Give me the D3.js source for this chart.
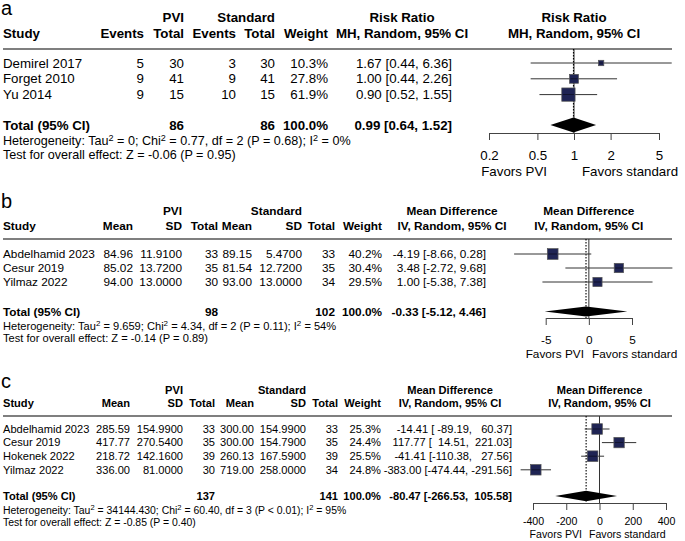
<!DOCTYPE html>
<html>
<head>
<meta charset="utf-8">
<script src="https://cdn.jsdelivr.net/npm/d3@7"></script>
<style>
  body { margin: 0; background: #fff; }
  text { font-family: "Liberation Sans", Arial, sans-serif; white-space: pre; fill: #000; }
</style>
</head>
<body>
<script>
// ---------- panel a : risk ratio ----------
const aStudies   = ["Demirel 2017", "Forget 2010", "Yu 2014"];
const aEventsPVI = [5, 9, 9];
const aTotalPVI  = [30, 41, 15];
const aEventsStd = [3, 9, 10];
const aTotalStd  = [30, 41, 15];
const aWeight    = [10.3, 27.8, 61.9];
const aEst       = [1.67, 1.00, 0.90];
const aLower     = [0.44, 0.44, 0.52];
const aUpper     = [6.36, 2.26, 1.55];
const aPooled    = [0.99, 0.64, 1.52];   // est, lower, upper
const aTicks     = [0.2, 0.5, 1, 2, 5];
const aHet       = ["0", "0.77", "2", "P = 0.68", "0%"];
const aTest      = "Z = -0.06 (P = 0.95)";

// ---------- panel b : mean difference ----------
const bStudies = ["Abdelhamid 2023", "Cesur 2019", "Yilmaz 2022"];
const bMeanPVI = [84.96, 85.02, 94.00];
const bSdPVI   = [11.91, 13.72, 13.00];
const bTotalPVI = [33, 35, 30];
const bMeanStd = [89.15, 81.54, 93.00];
const bSdStd   = [5.47, 12.72, 13.00];
const bTotalStd = [33, 35, 34];
const bWeight  = [40.2, 30.4, 29.5];
const bEst     = [-4.19, 3.48, 1.00];
const bLower   = [-8.66, -2.72, -5.38];
const bUpper   = [0.28, 9.68, 7.38];
const bPooled  = [-0.33, -5.12, 4.46];
const bTicks   = [-5, 0, 5];
const bHet     = ["9.659", "4.34", "2", "P = 0.11", "54%"];
const bTest    = "Z = -0.14 (P = 0.89)";

// ---------- panel c : mean difference ----------
const cStudies = ["Abdelhamid 2023", "Cesur 2019", "Hokenek 2022", "Yilmaz 2022"];
const cMeanPVI = [285.59, 417.77, 218.72, 336.00];
const cSdPVI   = [154.99, 270.54, 142.16, 81.00];
const cTotalPVI = [33, 35, 39, 30];
const cMeanStd = [300.00, 300.00, 260.13, 719.00];
const cSdStd   = [154.99, 154.79, 167.59, 258.00];
const cTotalStd = [33, 35, 39, 34];
const cWeight  = [25.3, 24.4, 25.5, 24.8];
const cEst     = [-14.41, 117.77, -41.41, -383.00];
const cLower   = [-89.19, 14.51, -110.38, -474.44];
const cUpper   = [60.37, 221.03, 27.56, -291.56];
const cPooled  = [-80.47, -266.53, 105.58];
const cTicks   = [-400, -200, 0, 200, 400];
const cHet     = ["34144.430", "60.40", "3", "P < 0.01", "95%"];
const cTest    = "Z = -0.85 (P = 0.40)";

const svg = d3.select("body").append("svg").attr("width", 685).attr("height", 541);

// plain hyphen instead of unicode minus
const loc = d3.formatLocale({decimal: ".", thousands: ",", grouping: [3], currency: ["", ""], minus: "-"});
const f2 = loc.format(".2f"), f4 = loc.format(".4f"), fInt = loc.format("d");
const fPct = v => loc.format(".1f")(v) + "%";
const navy = "#1f2454";

function forest(p) {
    const g = svg.append("g");
    const fs = p.fs;
    const x = p.x;

    const txt = (tx, ty, s, anchor, bold, size) => g.append("text")
        .attr("x", tx).attr("y", ty).attr("dy", ".35em")
        .attr("text-anchor", anchor || "start")
        .attr("font-weight", bold ? "bold" : null)
        .style("font-size", (size || fs) + "px")
        .text(s);

    const ciStr = (e, l, u) => {
        const pad = s => s.padStart(p.pad);
        return f2(e) + " [" + pad(f2(l)) + ", " + pad(f2(u)) + "]";
    };

    // panel letter
    g.append("text").attr("x", 1).attr("y", p.letterY).style("font-size", "20px").text(p.letter);

    // header row 1
    p.groups.forEach(d => txt(d[1], p.h1, d[0], "end", true));
    txt(p.ciHeadX, p.h1, p.ciHead[0], "middle", true);
    txt(x(p.nullVal), p.h1, p.ciHead[0], "middle", true);

    // header row 2
    txt(3, p.h2, "Study", "start", true);
    p.cols.forEach(c => txt(c.x, p.h2, c.label, "end", true));
    txt(p.ciHeadX, p.h2, p.ciHead[1], "middle", true);
    txt(x(p.nullVal), p.h2, p.ciHead[1], "middle", true);

    g.append("line")
        .attr("x1", 3).attr("x2", 672).attr("y1", p.rule).attr("y2", p.rule)
        .attr("stroke", "#555").attr("stroke-width", 1.6);

    // null line (solid) and pooled estimate (dotted)
    g.append("line")
        .attr("x1", x(p.nullVal)).attr("x2", x(p.nullVal))
        .attr("y1", p.rule).attr("y2", p.axisY)
        .attr("stroke", "#333").attr("stroke-width", 1);
    g.append("line")
        .attr("x1", x(p.pooled[0])).attr("x2", x(p.pooled[0]))
        .attr("y1", p.rule).attr("y2", p.axisY)
        .attr("stroke", "#000").attr("stroke-width", 1.1)
        .attr("stroke-dasharray", "1.5,1.5");

    // study rows
    p.studies.forEach((s, i) => {
        const y = p.row0 + i * p.step;
        txt(3, y, s);
        p.cols.forEach(c => txt(c.x, y, c.fmt(c.vals[i]), "end"));
        txt(p.ciX, y, ciStr(p.est[i], p.lower[i], p.upper[i]), "end");

        g.append("line")
            .attr("x1", x(p.lower[i])).attr("x2", x(p.upper[i]))
            .attr("y1", y).attr("y2", y)
            .attr("stroke", "#333").attr("stroke-width", 1);
        const sz = p.k * Math.sqrt(p.weight[i]);
        g.append("rect")
            .attr("x", x(p.est[i]) - sz / 2).attr("y", y - sz / 2)
            .attr("width", sz).attr("height", sz)
            .attr("fill", navy).attr("stroke", "#555").attr("stroke-width", 0.7);
        g.append("line")
            .attr("x1", x(p.est[i]) - sz / 2 + 1).attr("x2", x(p.est[i]) + sz / 2 - 1)
            .attr("y1", y).attr("y2", y)
            .attr("stroke", "#000").attr("stroke-width", 0.8).attr("opacity", 0.6);
    });

    // total row
    txt(3, p.totY, "Total (95% CI)", "start", true);
    p.cols.forEach(c => {
        if (c.sum) txt(c.x, p.totY, fInt(d3.sum(c.vals)), "end", true);
        if (c.total) txt(c.x, p.totY, c.total, "end", true);
    });
    txt(p.ciX, p.totY, ciStr(p.pooled[0], p.pooled[1], p.pooled[2]), "end", true);

    const cx = x(p.pooled[0]);
    g.append("path")
        .attr("d", `M${x(p.pooled[1])},${p.totY}L${cx},${p.totY - p.dh}L${x(p.pooled[2])},${p.totY}L${cx},${p.totY + p.dh}Z`)
        .attr("fill", "#000");

    // heterogeneity line with superscripts
    const het = g.append("text").attr("x", 3).attr("y", p.hetY).attr("dy", ".35em")
        .style("font-size", p.hfs + "px");
    const up = 0.35 * p.hfs;
    const parts = [
        ["Heterogeneity: Tau", 0], ["2", 1], [" = " + p.het[0] + "; Chi", 0], ["2", 1],
        [" = " + p.het[1] + ", df = " + p.het[2] + " (" + p.het[3] + "); I", 0], ["2", 1],
        [" = " + p.het[4], 0]
    ];
    parts.forEach((d, j) => {
        const t = het.append("tspan").text(d[0]);
        if (d[1]) t.attr("dy", -up).style("font-size", (p.hfs * 0.72) + "px");
        else if (j > 0) t.attr("dy", up);
    });
    txt(3, p.testY, "Test for overall effect: " + p.test, "start", false, p.hfs);

    // axis
    const ax = g.append("g")
        .attr("transform", `translate(0,${p.axisY})`)
        .call(d3.axisBottom(x).tickValues(p.ticks).tickFormat(loc.format("~g"))
            .tickSize(p.tickLen).tickSizeOuter(0));
    ax.select(".domain").attr("stroke", "#444");
    ax.selectAll(".tick line").attr("stroke", "#444");
    ax.selectAll(".tick text")
        .attr("y", p.tickLabY - p.axisY).attr("dy", ".35em")
        .style("font-size", (p.afs || fs) + "px");

    txt(p.favL, p.favY, "Favors PVI", "end", false, p.afs || fs);
    txt(p.favR, p.favY, "Favors standard", "start", false, p.afs || fs);
}

forest({
    letter: "a", letterY: 15, fs: 13.3, hfs: 12.6,
    h1: 17, h2: 33, rule: 49, row0: 63, step: 15.8, totY: 125, hetY: 141, testY: 155,
    studies: aStudies, weight: aWeight, est: aEst, lower: aLower, upper: aUpper,
    pooled: aPooled, het: aHet, test: aTest, pad: 0,
    groups: [["PVI", 184], ["Standard", 275]],
    cols: [
        {label: "Events", x: 144, vals: aEventsPVI, fmt: fInt},
        {label: "Total", x: 184, vals: aTotalPVI, fmt: fInt, sum: true},
        {label: "Events", x: 236, vals: aEventsStd, fmt: fInt},
        {label: "Total", x: 275, vals: aTotalStd, fmt: fInt, sum: true},
        {label: "Weight", x: 328, vals: aWeight, fmt: fPct, total: "100.0%"}
    ],
    ciHead: ["Risk Ratio", "MH, Random, 95% CI"], ciHeadX: 402, ciX: 452,
    x: d3.scaleLog().domain([0.2, 5]).range([489, 659]), nullVal: 1, ticks: aTicks,
    axisY: 133, tickLen: 7, tickLabY: 155, favY: 171, favL: 547, favR: 582,
    k: 1.69, dh: 7.5
});

forest({
    letter: "b", letterY: 208, fs: 11.8, hfs: 11.1,
    h1: 211, h2: 226, rule: 239, row0: 254, step: 14, totY: 311.5, hetY: 326, testY: 338,
    studies: bStudies, weight: bWeight, est: bEst, lower: bLower, upper: bUpper,
    pooled: bPooled, het: bHet, test: bTest, pad: 0,
    groups: [["PVI", 182], ["Standard", 302]],
    cols: [
        {label: "Mean", x: 133, vals: bMeanPVI, fmt: f2},
        {label: "SD", x: 182, vals: bSdPVI, fmt: f4},
        {label: "Total", x: 218, vals: bTotalPVI, fmt: fInt, sum: true},
        {label: "Mean", x: 252, vals: bMeanStd, fmt: f2},
        {label: "SD", x: 302, vals: bSdStd, fmt: f4},
        {label: "Total", x: 335, vals: bTotalStd, fmt: fInt, sum: true},
        {label: "Weight", x: 382, vals: bWeight, fmt: fPct, total: "100.0%"}
    ],
    ciHead: ["Mean Difference", "IV, Random, 95% CI"], ciHeadX: 452, ciX: 486,
    x: d3.scaleLinear().domain([-5, 5]).range([545.7, 632]), nullVal: 0, ticks: bTicks,
    axisY: 318, tickLen: 7, tickLabY: 340, favY: 354, favL: 584, favR: 592,
    k: 1.69, dh: 5
});

forest({
    letter: "c", letterY: 388, fs: 11.1, hfs: 10.45, afs: 10.6,
    h1: 390, h2: 403, rule: 416, row0: 429, step: 13.6, totY: 496, hetY: 510, testY: 522,
    studies: cStudies, weight: cWeight, est: cEst, lower: cLower, upper: cUpper,
    pooled: cPooled, het: cHet, test: cTest, pad: 7,
    groups: [["PVI", 183], ["Standard", 306]],
    cols: [
        {label: "Mean", x: 130, vals: cMeanPVI, fmt: f2},
        {label: "SD", x: 183, vals: cSdPVI, fmt: f4},
        {label: "Total", x: 215, vals: cTotalPVI, fmt: fInt, sum: true},
        {label: "Mean", x: 254, vals: cMeanStd, fmt: f2},
        {label: "SD", x: 306, vals: cSdStd, fmt: f4},
        {label: "Total", x: 338, vals: cTotalStd, fmt: fInt, sum: true},
        {label: "Weight", x: 381, vals: cWeight, fmt: fPct, total: "100.0%"}
    ],
    ciHead: ["Mean Difference", "IV, Random, 95% CI"], ciHeadX: 450, ciX: 512,
    x: d3.scaleLinear().domain([-400, 400]).range([533, 666]), nullVal: 0, ticks: cTicks,
    axisY: 503, tickLen: 7, tickLabY: 521.5, favY: 534, favL: 582, favR: 589,
    k: 2.1, dh: 5.3
});
</script>
</body>
</html>
